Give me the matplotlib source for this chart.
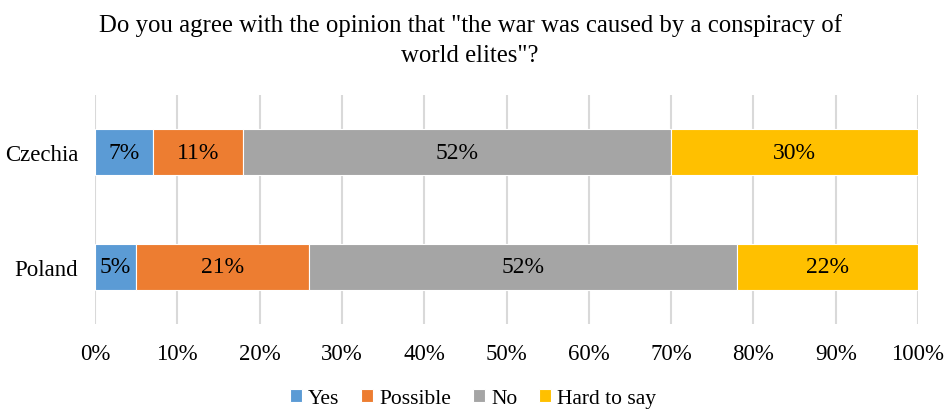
import matplotlib.pyplot as plt
from matplotlib.ticker import PercentFormatter

# --- data ---
countries = ['Poland', 'Czechia']
answers = ['Yes', 'Possible', 'No', 'Hard to say']
yes = [5, 7]
possible = [21, 11]
no = [52, 52]
hard_to_say = [22, 30]
colors = ['#5B9BD5', '#ED7D31', '#A5A5A5', '#FFC000']

plt.rcParams['font.family'] = ['Liberation Serif', 'DejaVu Serif']

fig = plt.figure(figsize=(9.46, 4.10), dpi=100)
ax = fig.add_axes([95 / 946, 1 - 325 / 410, 823 / 946, 229 / 410])

left = [0, 0]
for name, vals, col in zip(answers, [yes, possible, no, hard_to_say], colors):
    bars = ax.barh(countries, vals, left=left, height=0.4, color=col,
                   edgecolor='white', linewidth=0.8, label=name, zorder=3)
    ax.bar_label(bars, labels=[f'{v}%' for v in vals], label_type='center',
                 fontsize=17, color='black')
    left = [a + b for a, b in zip(left, vals)]

ax.set_xlim(0, 100)
ax.set_ylim(-0.5, 1.5)
ax.set_xticks(range(0, 101, 10))
ax.xaxis.set_major_formatter(PercentFormatter(decimals=0))
ax.grid(axis='x', color='#D9D9D9', linewidth=1.5, zorder=0)
ax.tick_params(axis='both', length=0, labelsize=16.5)
ax.tick_params(axis='y', pad=12)
ax.tick_params(axis='x', pad=14)
for s in ax.spines.values():
    s.set_visible(False)

fig.suptitle('Do you agree with the opinion that "the war was caused by a conspiracy of\nworld elites"?',
             fontsize=17.8, y=0.965, x=0.497, linespacing=1.45)

fig.legend(loc='lower center', bbox_to_anchor=(0.5, -0.045), ncol=4, frameon=False,
           fontsize=15.5, handlelength=0.55, handleheight=0.55, handletextpad=0.3,
           columnspacing=1.0)

fig.savefig('out.png', dpi=100)
